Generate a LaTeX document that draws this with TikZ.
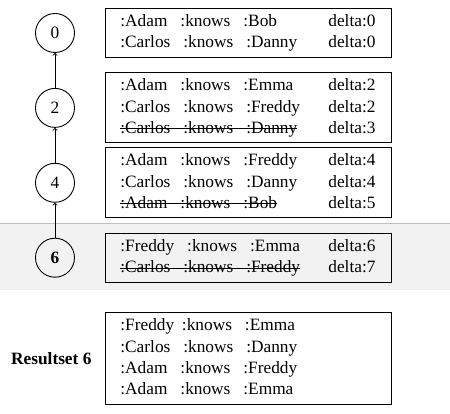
\documentclass[tikz,border=0pt]{standalone}
\usepackage{fontspec}
\setmainfont{Liberation Serif}
\usetikzlibrary{positioning}
\newlength{\gonewd}
\newcommand{\gap}{\hspace{0.75em}}
\newcommand{\gone}[1]{\settowidth{\gonewd}{#1}\rlap{\rule[0.23em]{\gonewd}{1.1pt}}#1}
\newcommand{\triple}[2]{\strut\makebox[208pt][l]{#1}#2}
\tikzset{
	version/.style={circle, draw, line width=0.9pt, minimum size=39pt, inner sep=0pt},
	deltabox/.style={draw, line width=0.9pt, text width=256pt, align=left, inner xsep=15pt, inner ysep=3pt},
	band/.style={fill=black!5, draw=none}}

\begin{document}
\begin{tikzpicture}[x=1pt, y=-1pt, font=\fontsize{17.3}{21.3}\selectfont, node distance=35pt]
\useasboundingbox (0,0) rectangle (450,414);
\fill[black!5] (0,223) rectangle (450,289); % current version
\draw[black!25, line width=0.8pt] (0,223) -- (450,223);
\draw[black!6, line width=0.6pt] (0,289) -- (450,289);

\node[version] (c0) at (55,33) {0};
\node[version, below=of c0] (c2) {2};
\node[version, below=of c2] (c4) {4};
\node[version, below=of c4] (c6) {\textbf{6}};
\draw[->, line width=0.9pt] (c2) -- (c0);
\draw[->, line width=0.9pt] (c4) -- (c2);
\draw[->, line width=0.9pt] (c6) -- (c4);

\node[deltabox, right=30pt of c0] (b0) {\triple{:Adam\gap:knows\gap:Bob}{delta:0}\\
	\triple{:Carlos\gap:knows\gap:Danny}{delta:0}};
\node[deltabox, right=30pt of c2] (b2) {\triple{:Adam\gap:knows\gap:Emma}{delta:2}\\
	\triple{:Carlos\gap:knows\gap:Freddy}{delta:2}\\
	\triple{\gone{:Carlos\gap:knows\gap:Danny}}{delta:3}};
\node[deltabox, right=30pt of c4] (b4) {\triple{:Adam\gap:knows\gap:Freddy}{delta:4}\\
	\triple{:Carlos\gap:knows\gap:Danny}{delta:4}\\
	\triple{\gone{:Adam\gap:knows\gap:Bob}}{delta:5}};
\node[deltabox, right=30pt of c6] (b6) {\triple{:Freddy\gap:knows\gap:Emma}{delta:6}\\
	\triple{\gone{:Carlos\gap:knows\gap:Freddy}}{delta:7}};

\node[deltabox, below=30pt of b6] (res) {\strut:Freddy\hspace{0.45em}:knows\gap:Emma\\
	\strut:Carlos\gap:knows\gap:Danny\\
	\strut:Adam\gap:knows\gap:Freddy\\
	\strut:Adam\gap:knows\gap:Emma};
\node[left=10pt of res] (rlabel) {\textbf{Resultset 6}}; % result
\end{tikzpicture}
\end{document}
